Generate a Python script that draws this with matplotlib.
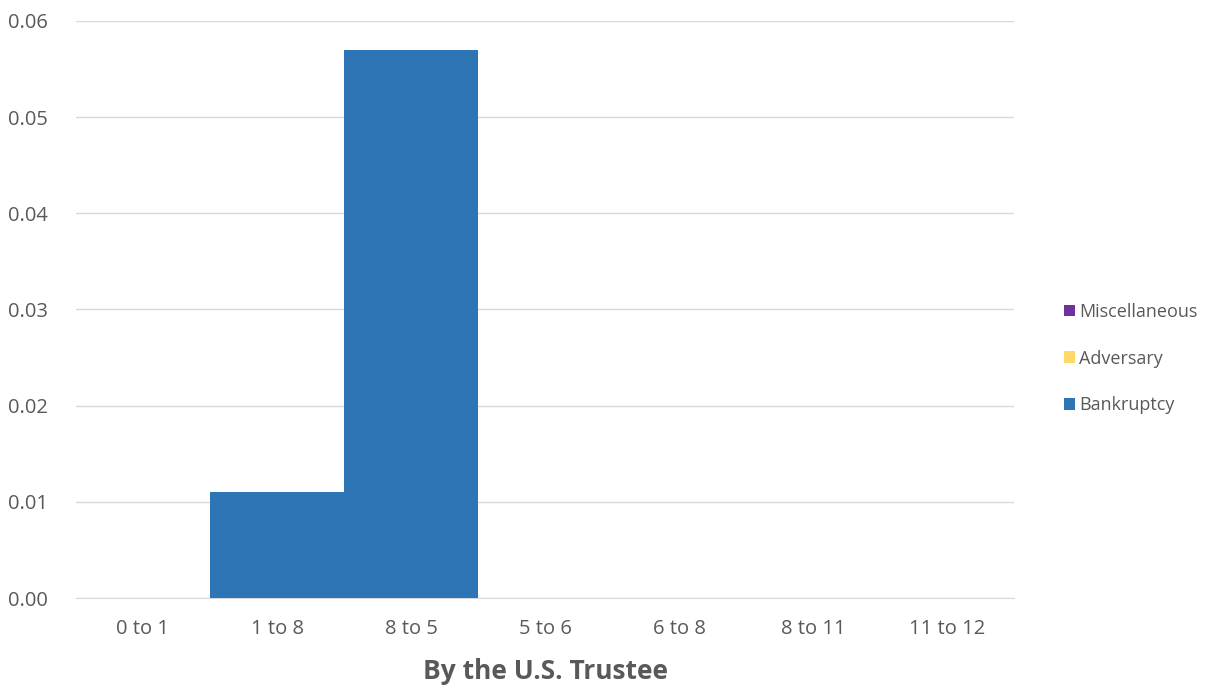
import matplotlib.pyplot as plt
import numpy as np

categories = ["0 to 1", "1 to 8", "8 to 5", "5 to 6", "6 to 8", "8 to 11", "11 to 12"]
bankruptcy = [0, 0.011, 0.057, 0, 0, 0, 0]
adversary = [0, 0, 0, 0, 0, 0, 0]
miscellaneous = [0, 0, 0, 0, 0, 0, 0]

plt.rcParams["font.family"] = ["Open Sans", "DejaVu Sans"]
grey = "#595959"

fig = plt.figure(figsize=(12.25, 6.88), dpi=100)
ax = fig.add_axes([0.062, 0.1308, 0.766, 0.8387])

x = np.arange(len(categories))
b1 = ax.bar(x, bankruptcy, width=1.0, color="#2E75B6", label="Bankruptcy", zorder=3)
bottom2 = np.array(bankruptcy)
b2 = ax.bar(x, adversary, width=1.0, bottom=bottom2, color="#FFD966", label="Adversary", zorder=3)
bottom3 = bottom2 + np.array(adversary)
b3 = ax.bar(x, miscellaneous, width=1.0, bottom=bottom3, color="#7030A0", label="Miscellaneous", zorder=3)

ax.set_xlim(-0.5, len(categories) - 0.5)
ax.set_ylim(0, 0.06)
yt = np.arange(0, 0.061, 0.01)
ax.set_yticks(yt)
ax.set_yticklabels([f"{v:.2f}" for v in yt])
ax.set_xticks(x)
ax.set_xticklabels(categories)
ax.grid(axis="y", color="#D9D9D9", linewidth=1, zorder=0)
for s in ["top", "right", "left"]:
    ax.spines[s].set_visible(False)
ax.spines["bottom"].set_color("#D9D9D9")
ax.tick_params(axis="both", length=0, colors=grey, labelsize=14.5)
ax.tick_params(axis="x", pad=15)
ax.tick_params(axis="y", pad=20)

ax.set_xlabel("By the U.S. Trustee", fontsize=19, fontweight="bold", color=grey, labelpad=14)

leg = ax.legend(handles=[b3, b2, b1], loc="center left", bbox_to_anchor=(1.036, 0.415),
                frameon=False, fontsize=13, handlelength=0.6, handleheight=0.6,
                handletextpad=0.2, labelspacing=1.6)
for t in leg.get_texts():
    t.set_color(grey)

fig.savefig("out.png", dpi=100)
